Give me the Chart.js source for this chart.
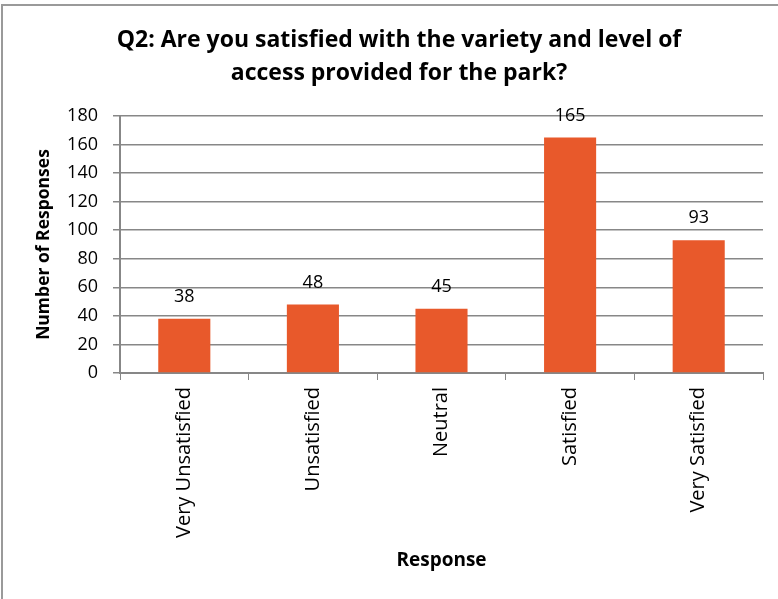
<!DOCTYPE html>
<html>
<head>
<meta charset="utf-8">
<script src="https://cdn.jsdelivr.net/npm/chart.js@4.4.1/dist/chart.umd.min.js"></script>
<style>
html,body{margin:0;padding:0;background:#fff;overflow:hidden;}
#wrap{position:absolute;left:0;top:0;width:778px;height:599px;}
#frame{position:absolute;left:1px;top:4px;width:900px;height:700px;border-left:2px solid #9a9a9a;border-top:2px solid #9a9a9a;pointer-events:none;}
</style>
</head>
<body>
<div id="wrap"><canvas id="c" width="778" height="599"></canvas><div id="frame"></div></div>
<script>
const titleLines = ["Q2: Are you satisfied with the variety and level of", "access provided for the park?"];
const categories = ["Very Unsatisfied", "Unsatisfied", "Neutral", "Satisfied", "Very Satisfied"];
const responses = [38, 48, 45, 165, 93];
const yTicks = [0, 20, 40, 60, 80, 100, 120, 140, 160, 180];
const xAxisTitle = "Response";
const yAxisTitle = "Number of Responses";

const FONT = "'Open Sans', Lato, sans-serif";

const titlePlugin = {
  id: 'customTitle',
  afterDraw(chart) {
    const ctx = chart.ctx;
    ctx.save();
    ctx.font = "bold 23px " + FONT;
    ctx.fillStyle = "#000";
    ctx.textAlign = "center";
    ctx.textBaseline = "middle";
    titleLines.forEach((t, i) => ctx.fillText(t, 399, 40 + i * 33));
    ctx.restore();
  }
};

const labelPlugin = {
  id: 'valueLabels',
  afterDatasetsDraw(chart) {
    const ctx = chart.ctx;
    const meta = chart.getDatasetMeta(0);
    ctx.save();
    ctx.font = "18px " + FONT;
    ctx.fillStyle = "#000";
    ctx.textAlign = "center";
    ctx.textBaseline = "middle";
    meta.data.forEach((bar, i) => {
      ctx.fillText(String(responses[i]), bar.x, bar.y - 22);
    });
    ctx.restore();
  }
};

new Chart(document.getElementById('c'), {
  type: 'bar',
  data: {
    labels: categories,
    datasets: [{
      data: responses,
      backgroundColor: '#E8592B',
      borderWidth: 0,
      barPercentage: 0.405,
      categoryPercentage: 1.0
    }]
  },
  options: {
    responsive: false,
    animation: false,
    devicePixelRatio: 1,
    layout: { padding: { left: 34, right: 15, top: 116, bottom: 27 } },
    plugins: {
      legend: { display: false },
      title: { display: false },
      tooltip: { enabled: false }
    },
    scales: {
      x: {
        grid: { display: true, drawOnChartArea: false, drawTicks: true, tickLength: 7, color: '#878787', offset: true },
        border: { color: '#878787', width: 2 },
        ticks: { color: '#000', font: { family: FONT, size: 20 }, maxRotation: 90, minRotation: 90, padding: 7, autoSkip: false },
        title: { display: true, text: xAxisTitle, color: '#000', font: { family: FONT, size: 19, weight: 'bold' }, padding: 0 },
        afterFit(scale) { scale.height = 599 - 27 - 373; }
      },
      y: {
        min: 0, max: 180,
        afterBuildTicks(scale) { scale.ticks = yTicks.map(v => ({ value: v })); },
        grid: { color: '#878787', lineWidth: 1.5, tickLength: 7, drawTicks: true },
        border: { color: '#878787', width: 2 },
        ticks: { color: '#000', font: { family: FONT, size: 18 }, padding: 15 },
        title: { display: true, text: yAxisTitle, color: '#000', font: { family: FONT, size: 17.5, weight: 'bold' }, padding: 0 },
        afterFit(scale) { scale.width = 120 - 34; }
      }
    }
  },
  plugins: [titlePlugin, labelPlugin]
});
</script>
</body>
</html>
